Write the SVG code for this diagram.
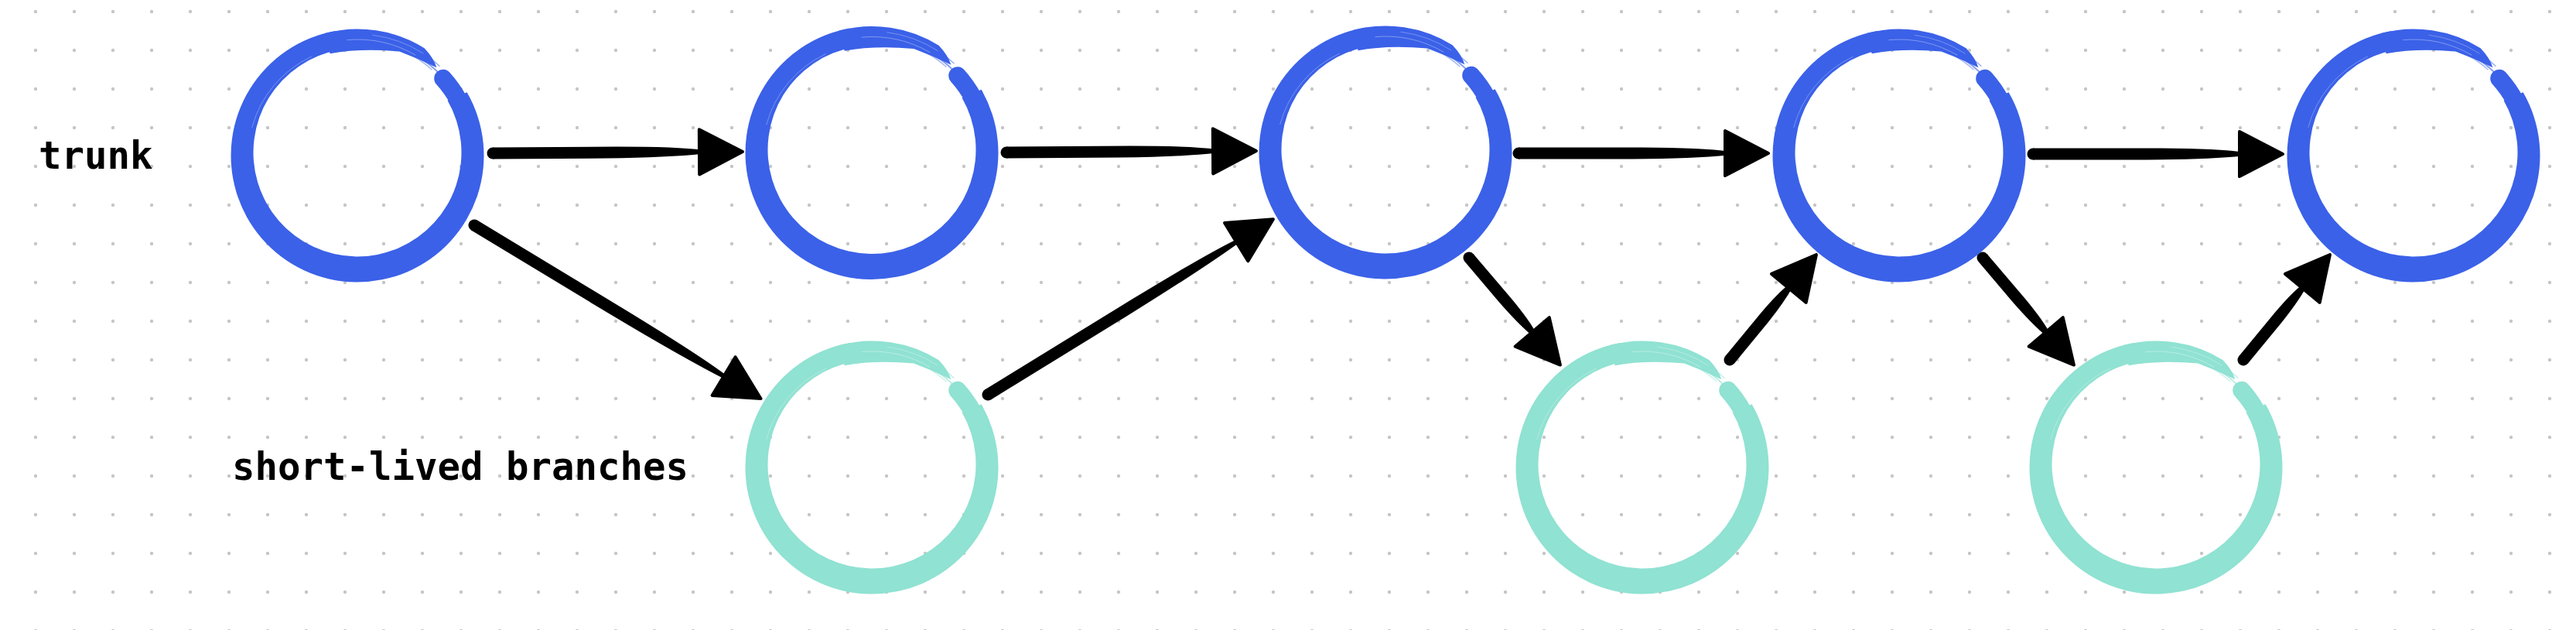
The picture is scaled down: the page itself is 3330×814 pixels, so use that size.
<svg xmlns="http://www.w3.org/2000/svg" xmlns:xlink="http://www.w3.org/1999/xlink" width="3330" height="814" viewBox="0 0 3330 814">
<style>
.label{font-family:"DejaVu Sans Mono","Liberation Mono",monospace;font-weight:bold;font-size:49px;fill:#000}
.trunk{color:#3B61E8}
.branch{color:#90E2D2}
.body{fill:currentColor}
.cap{fill:none;stroke:currentColor;stroke-width:23;stroke-linecap:round}
.strand{fill:none;stroke:currentColor;stroke-linecap:round}
.streak{fill:none;stroke:#fff;stroke-linecap:round}
.shaft{fill:#000}
.head{fill:#000;stroke:#000;stroke-width:4;stroke-linejoin:round}
</style>
<defs>
<pattern id="dots" x="21" y="-10" width="50" height="50" patternUnits="userSpaceOnUse">
<circle cx="25" cy="25" r="2.2" fill="#c6c6c6"/>
</pattern>
<g id="enso">
<path class="body" d="M141.6,-81.75 A163.5,163.5 0 1 1 -28.4,-161 L-23.35,-136.5 A134.5,134.5 0 1 0 116.5,-71.25 Z"/>
<path class="body" d="M-42.3,-157.9 A163.5,163.5 0 0 1 86.6,-138.65 Q98.5,-126.1 102.4,-113.7 Q78.4,-125.5 54.3,-134.4 Q4.85,-138.9 -35.3,-131.85 Z"/>
<path class="cap" d="M110.7,-99.7 A149,149 0 0 1 131.55,-69.96"/>
<path class="strand" stroke-width="2" opacity="0.6" d="M75,-129.9 A150,150 0 0 1 104.5,-107.5"/>
<path class="strand" stroke-width="1.5" opacity="0.5" d="M78.5,-136 A157,157 0 0 1 106.0,-115.8"/>
<path class="strand" stroke-width="1.5" opacity="0.45" d="M60,-135 A147,147 0 0 1 96.0,-111.3"/>
<path class="streak" stroke-width="1" opacity="0.35" d="M-13.1,-149.4 A150,150 0 0 1 75,-129.9"/>
<path class="streak" stroke-width="1" opacity="0.3" d="M20,-155.7 A157,157 0 0 1 85,-132"/>
<path class="streak" stroke-width="1" opacity="0.3" d="M-136.2,-36.5 A141,141 0 0 1 -59.6,-127.8"/>
</g>
<g id="arrow-h">
<circle class="shaft" cx="0" cy="0" r="7.5"/>
<path class="shaft" d="M0,-7.5 L160,-7.5 Q240,-7 271,-2.5 L271,2.5 Q227,7 147,7.5 L0,7.5 Z"/>
<path class="head" d="M267,-29 L323,0 L267,29 Z"/>
</g>
<g id="arrow-d">
<circle class="shaft" cx="0" cy="0" r="7.5"/>
<path class="shaft" d="M0,-7.5 L226,-7.5 Q339,-7 381,-2.5 L381,2.5 Q320,7 207,7.5 L0,7.5 Z"/>
<path class="head" d="M377,-29 L433,0 L377,29 Z"/>
</g>
<g id="arrow-s1">
<circle class="shaft" cx="0" cy="0" r="7.5"/>
<path class="shaft" d="M0,-7.5 L76,-7.5 Q113,-7 130,-3 L130,3 Q107,7 69,7.5 L0,7.5 Z"/>
<path class="head" d="M126,-29 L182,0 L126,29 Z"/>
</g>
<g id="arrow-s2">
<circle class="shaft" cx="0" cy="0" r="7.5"/>
<path class="shaft" d="M0,-7.5 L72,-7.5 Q108,-7 124,-3 L124,3 Q102,7 66,7.5 L0,7.5 Z"/>
<path class="head" d="M120,-29 L176,0 L120,29 Z"/>
</g>
</defs>
<rect width="3330" height="814" fill="#fff"/>
<rect width="3330" height="814" fill="url(#dots)"/>

<g id="label-trunk"><text class="label" x="50" y="218">trunk</text></g>
<g id="label-branches"><text class="label" x="300" y="620">short-lived branches</text></g>

<g id="connectors">
<use href="#arrow-h" xlink:href="#arrow-h" transform="translate(637,198) rotate(-0.35)"/>
<use href="#arrow-h" xlink:href="#arrow-h" transform="translate(1301,197) rotate(-0.35)"/>
<use href="#arrow-h" xlink:href="#arrow-h" transform="translate(1963,198)"/>
<use href="#arrow-h" xlink:href="#arrow-h" transform="translate(2628,199)"/>
<use href="#arrow-d" xlink:href="#arrow-d" transform="translate(613,291) rotate(31.17)"/>
<use href="#arrow-d" xlink:href="#arrow-d" transform="translate(1277,510) rotate(-31.57)"/>
<use href="#arrow-s1" xlink:href="#arrow-s1" transform="translate(1899,333) rotate(49.6)"/>
<use href="#arrow-s2" xlink:href="#arrow-s2" transform="translate(2236,465) rotate(-50.5)"/>
<use href="#arrow-s1" xlink:href="#arrow-s1" transform="translate(2563,333) rotate(49.6)"/>
<use href="#arrow-s2" xlink:href="#arrow-s2" transform="translate(2900,465) rotate(-50.5)"/>
</g>

<g id="trunk-1" class="trunk"><use href="#enso" xlink:href="#enso" transform="translate(462,201)"/></g>
<g id="trunk-2" class="trunk"><use href="#enso" xlink:href="#enso" transform="translate(1127,197.5)"/></g>
<g id="trunk-3" class="trunk"><use href="#enso" xlink:href="#enso" transform="translate(1791,197)"/></g>
<g id="trunk-4" class="trunk"><use href="#enso" xlink:href="#enso" transform="translate(2455,201)"/></g>
<g id="trunk-5" class="trunk"><use href="#enso" xlink:href="#enso" transform="translate(3120,201)"/></g>
<g id="branch-1" class="branch"><use href="#enso" xlink:href="#enso" transform="translate(1127,604)"/></g>
<g id="branch-2" class="branch"><use href="#enso" xlink:href="#enso" transform="translate(2123,604)"/></g>
<g id="branch-3" class="branch"><use href="#enso" xlink:href="#enso" transform="translate(2787,604)"/></g>
</svg>
